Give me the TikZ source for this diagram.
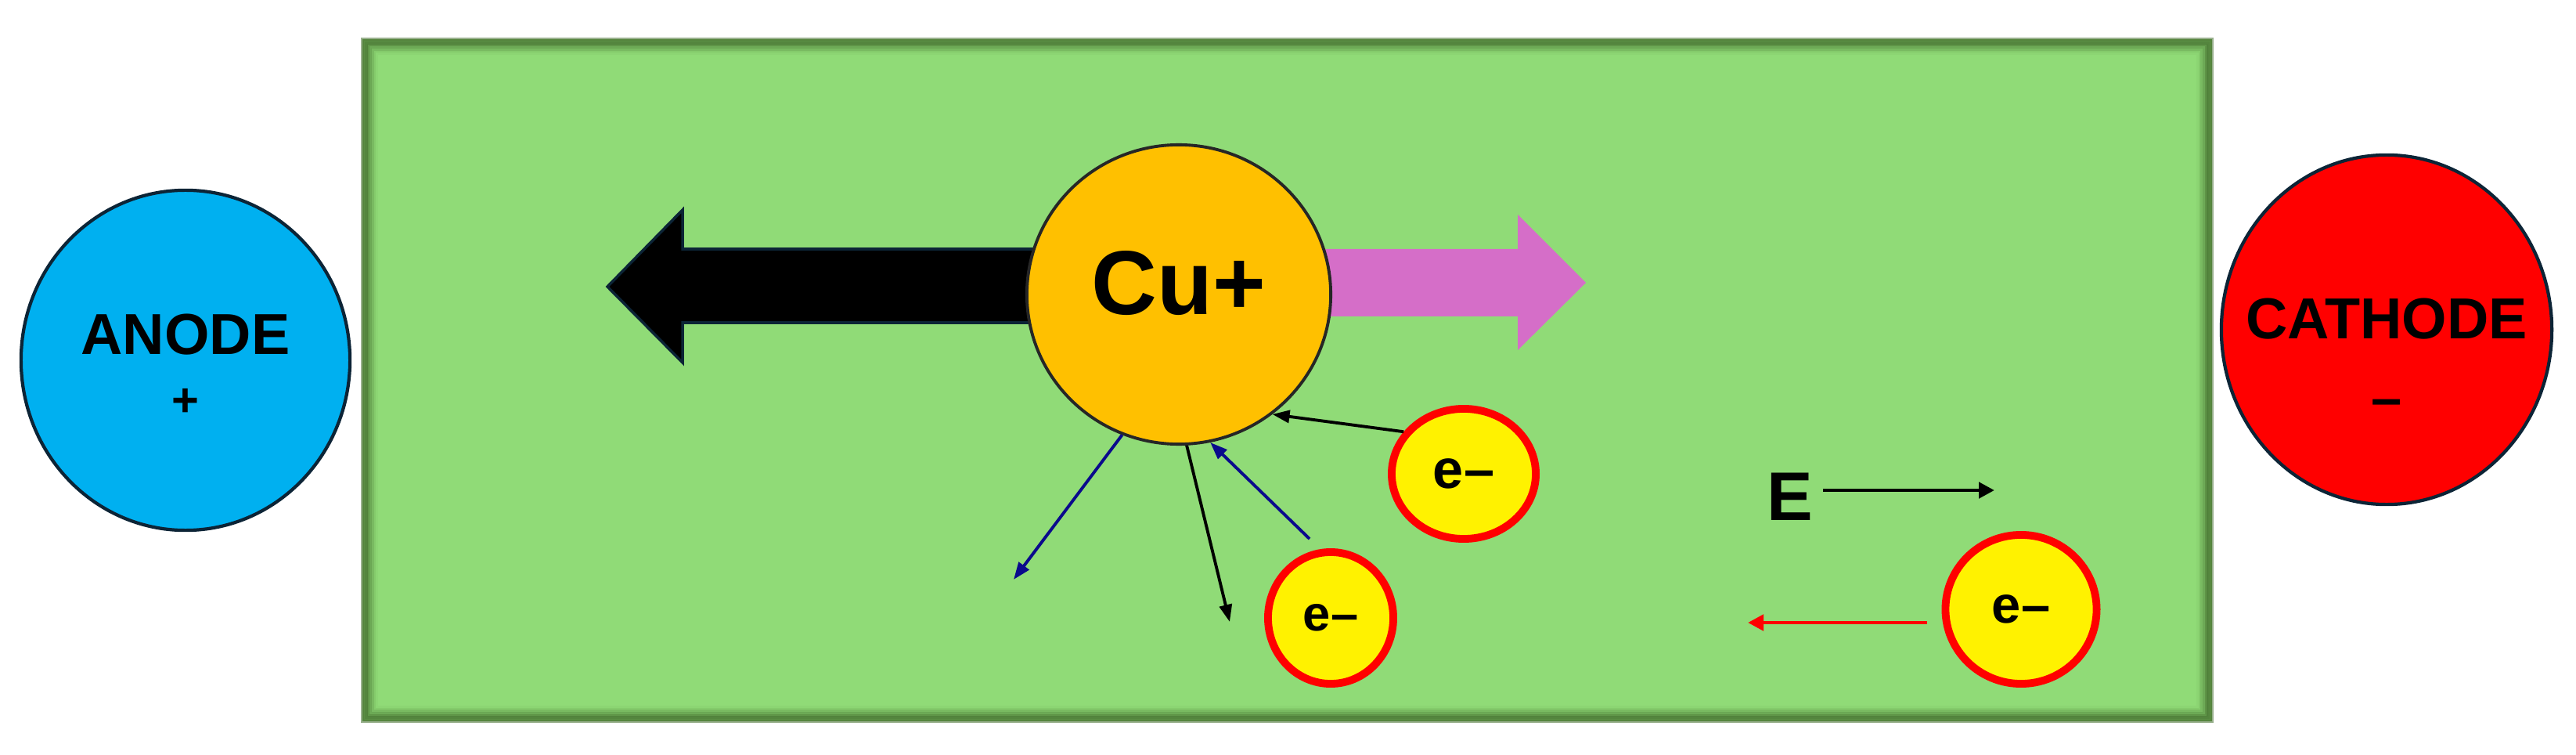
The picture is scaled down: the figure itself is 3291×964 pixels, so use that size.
\documentclass[tikz,border=0pt]{standalone}
\usepackage{fontspec}
\setmainfont{Liberation Sans}
\usetikzlibrary{arrows.meta, shapes.geometric}
\definecolor{bathgreen}{RGB}{144,219,119}
\definecolor{bathedge}{RGB}{70,112,48}
\definecolor{anodeblue}{RGB}{0,176,240}
\definecolor{rimnavy}{RGB}{12,36,54}
\definecolor{copper}{RGB}{255,192,0}
\definecolor{driftpink}{RGB}{213,110,200}
\definecolor{arrowblue}{RGB}{10,10,140}
\tikzset{
  electrode/.style = {ellipse, draw=rimnavy, line width=1.2pt, inner sep=0pt},
  elabel/.style    = {inner sep=0pt, font=\fontsize{21}{24}\selectfont\bfseries},
  ion/.style       = {ellipse, draw=black!85, line width=1.1pt, fill=copper,
                      minimum width=3.88cm, minimum height=3.82cm, text depth=8.5pt,
                      font=\fontsize{33}{36}\selectfont\bfseries},
  electron/.style  = {ellipse, draw=red, fill=yellow, line width=2.8pt,
                      inner sep=0pt, font=\fontsize{19}{20}\selectfont\bfseries},
  kick/.style      = {-{Triangle[length=0.22cm, width=0.16cm]}, line width=1.1pt},
  field/.style     = {-{Triangle[length=0.2cm, width=0.2cm]}, line width=1.4pt},
}

\begin{document}
\begin{tikzpicture}[x=0.01cm, y=-0.01cm]
  \useasboundingbox (0,0) rectangle (3291,964);

  % electrolyte bath with a soft inner shadow
  \fill[bathgreen] (464,51) rectangle (2825,920);
  \foreach \i/\o in {1/0.55,2/0.38,3/0.26,4/0.17,5/0.10,6/0.05}
    \draw[bathedge, opacity=\o, line width=2.6] (464+2.6*\i-1.3,51+2.6*\i-1.3)
      rectangle (2825-2.6*\i+1.3,920-2.6*\i+1.3);
  \draw[bathedge!80!bathgreen, line width=0.8pt] (464,51) rectangle (2825,920);

  \node[electrode, fill=anodeblue, minimum width=4.2cm, minimum height=4.34cm]
    (anode) at (237,460) {};
  \node[elabel] (anodetxt) at (237,427) {ANODE};
  \node[elabel, font=\fontsize{17}{17}\selectfont\bfseries] (anodesign) at (237,514) {+};

  \node[electrode, fill=red, minimum width=4.22cm, minimum height=4.46cm]
    (cathode) at (3049,421) {};
  \node[elabel] (cathodetxt) at (3049,407) {CATHODE};
  \node[elabel, font=\fontsize{20}{20}\selectfont\bfseries] (cathodesign) at (3049,521) {\textendash};

  % drift arrows behind the ion
  \draw[rimnavy, fill=black, line width=1pt] (1330,318) -- (872,318) -- (872,268)
    -- (776,366) -- (872,463) -- (872,412) -- (1330,412) -- cycle;
  \fill[driftpink] (1680,318) -- (1939,318) -- (1939,274) -- (2026,361)
    -- (1939,447) -- (1939,404) -- (1680,404) -- cycle;

  \node[ion] (cu) at (1506,376) {Cu+};

  \node[electron, minimum width=1.84cm, minimum height=1.66cm,
        font=\fontsize{20}{20}\selectfont\bfseries] (e1) at (1870,605) {e\textendash};
  \node[electron, minimum width=1.6cm, minimum height=1.68cm,
        font=\fontsize{18}{20}\selectfont\bfseries] (e2) at (1700,789) {e\textendash};
  \node[electron, minimum width=1.93cm, minimum height=1.9cm] (e3) at (2582,778) {e\textendash};

  \node[font=\fontsize{25}{28}\selectfont\bfseries] (E) at (2287,634) {E};

  \coordinate (e2out) at (1673,688);
  \coordinate (scatA) at (1295,740);
  \coordinate (scatB) at (1571,794);
  \coordinate (e3out) at (2462,795);
  \coordinate (Etip) at (2548,626);
  \coordinate (Rtip) at (2233,795);

  \draw[kick] (e1.145) -- (cu.-52);
  \draw[kick, arrowblue] (e2out) -- (cu.-78);
  \draw[kick, arrowblue] (cu.-112) -- (scatA);
  \draw[kick] (cu.-87) -- (scatB);

  \draw[field] (E.east |- Etip) -- (Etip);
  \draw[field, red] (e3out) -- (Rtip);
\end{tikzpicture}
\end{document}
